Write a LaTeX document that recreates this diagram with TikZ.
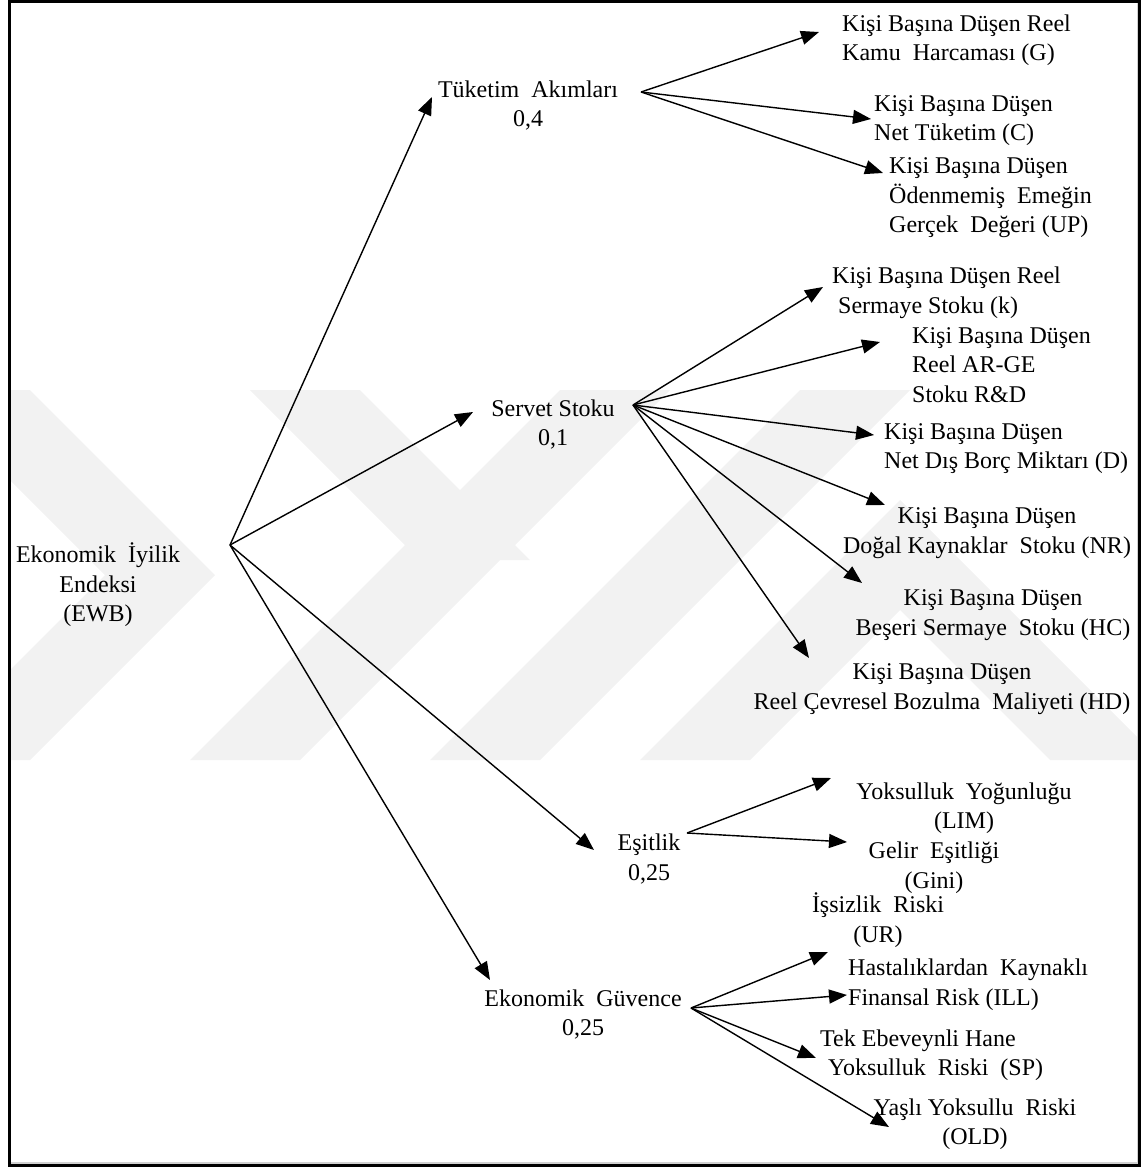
\documentclass[tikz,border=0pt]{standalone}
\usepackage{fontspec}
\setmainfont{Liberation Serif}
\usetikzlibrary{arrows.meta}
\begin{document}
\begin{tikzpicture}[x=1pt,y=-1pt,
  lbl/.style={inner sep=0pt, font=\fontsize{24}{29.5}\selectfont,
              execute at begin node=\strut, execute at end node=\strut},
  lleft/.style={lbl, align=left, anchor=west},
  lmid/.style={lbl, align=center},
  link/.style={line width=1.4pt, -{Triangle[length=18pt,width=14pt]}},
  emblem/.style={fill=black!5, draw=none}]
\useasboundingbox (0,0) rectangle (1141,1167);

% faint background emblem
\begin{scope}
\clip (10,3) rectangle (1137,1163);
\fill[emblem] (-80,390) -- (30,390) -- (215,575) -- (30,760) -- (-80,760) -- (105,575) -- cycle;
\fill[emblem] (190,760) -- (300,760) -- (670,390) -- (560,390) -- cycle;
\fill[emblem] (430,760) -- (540,760) -- (910,390) -- (800,390) -- cycle;
\fill[emblem] (250,390) -- (360,390) -- (530,560) -- (420,560) -- cycle;
\fill[emblem] (640,760) -- (900,500) -- (1137,737) -- (1137,760) -- (1050,760) -- (900,610) -- (750,760) -- cycle;
\end{scope}

% frame
\draw[black!18, line width=2pt] (1137.5,3) -- (1137.5,1163) -- (10,1163);
\draw[line width=3pt] (9.5,1.5) rectangle (1139.5,1165.5);

% root and first level
\node[lmid] (ewb) at (98,587) {Ekonomik \ İyilik\\Endeksi\\(EWB)};
\node[lmid] (tuk) at (528,108) {Tüketim \ Akımları\\0,4};
\node[lmid] (ser) at (553,427) {Servet Stoku\\0,1};
\node[lmid] (esi) at (649,861.5) {Eşitlik\\0,25};
\node[lmid] (guv) at (583,1017) {Ekonomik \ Güvence\\0,25};

% consumption flows
\node[lleft] (g)  at (842,42)    {Kişi Başına Düşen Reel\\Kamu \ Harcaması (G)};
\node[lleft] (c)  at (874,122.5) {Kişi Başına Düşen\\Net Tüketim (C)};
\node[lleft] (up) at (889,199.7) {Kişi Başına Düşen\\Ödenmemiş \ Emeğin\\Gerçek \ Değeri (UP)};

% wealth stock
\node[lleft] (k)  at (832,294.5) {Kişi Başına Düşen Reel\\\hspace*{6pt}Sermaye Stoku (k)};
\node[lleft] (rd) at (912,369.3) {Kişi Başına Düşen\\Reel AR-GE\\Stoku R\&D};
\node[lleft] (d)  at (884,450.5) {Kişi Başına Düşen\\Net Dış Borç Miktarı (D)};
\node[lmid]  (nr) at (987,535)   {Kişi Başına Düşen\\Doğal Kaynaklar \ Stoku (NR)};
\node[lmid]  (hc) at (993,617)   {Kişi Başına Düşen\\Beşeri Sermaye \ Stoku (HC)};
\node[lmid]  (hd) at (942,691)   {Kişi Başına Düşen\\Reel Çevresel Bozulma \ Maliyeti (HD)};

% equality
\node[lmid] (lim)  at (964,810)   {Yoksulluk \ Yoğunluğu\\(LIM)};
\node[lmid] (gini) at (934,869.5) {Gelir \ Eşitliği\\(Gini)};

% economic security
\node[lmid]  (ur)  at (878,922)    {İşsizlik \ Riski\\(UR)};
\node[lleft] (ill) at (848,986.5)  {Hastalıklardan \ Kaynaklı\\Finansal Risk (ILL)};
\node[lleft] (sp)  at (820,1057)   {Tek Ebeveynli Hane\\\hspace*{8pt}Yoksulluk \ Riski \ (SP)};
\node[lmid]  (old) at (975,1126)   {Yaşlı Yoksullu \ Riski\\(OLD)};

% branching points and arrow tips
\coordinate (ewbO) at (230,545);
\coordinate (tukT) at (432,97);
\coordinate (serT) at (473,412);
\coordinate (esiT) at (594,850);
\coordinate (guvT) at (490,980);

\coordinate (tukO) at (641,92);
\coordinate (gT)   at (819,32);
\coordinate (cT)   at (871,119);
\coordinate (upT)  at (883,173);

\coordinate (serO) at (633,405);
\coordinate (kT)   at (823,287);
\coordinate (rdT)  at (880,342);
\coordinate (dT)   at (874,435);
\coordinate (nrT)  at (885,505);
\coordinate (hcT)  at (862,583);
\coordinate (hdT)  at (809,658);

\coordinate (esiO) at (687,833);
\coordinate (limT) at (831,778);
\coordinate (giniT) at (847,842);

\coordinate (guvO) at (691,1008);
\coordinate (urT)  at (828,952);
\coordinate (illT) at (847,995);
\coordinate (spT)  at (816,1058);
\coordinate (oldT) at (889,1127);

% connectors
\foreach \t in {tukT,serT,esiT,guvT} \draw[link] (ewbO) -- (\t);
\foreach \t in {gT,cT,upT} \draw[link] (tukO) -- (\t);
\foreach \t in {kT,rdT,dT,nrT,hcT,hdT} \draw[link] (serO) -- (\t);
\foreach \t in {limT,giniT} \draw[link] (esiO) -- (\t);
\foreach \t in {urT,illT,spT,oldT} \draw[link] (guvO) -- (\t);
\end{tikzpicture}
\end{document}
